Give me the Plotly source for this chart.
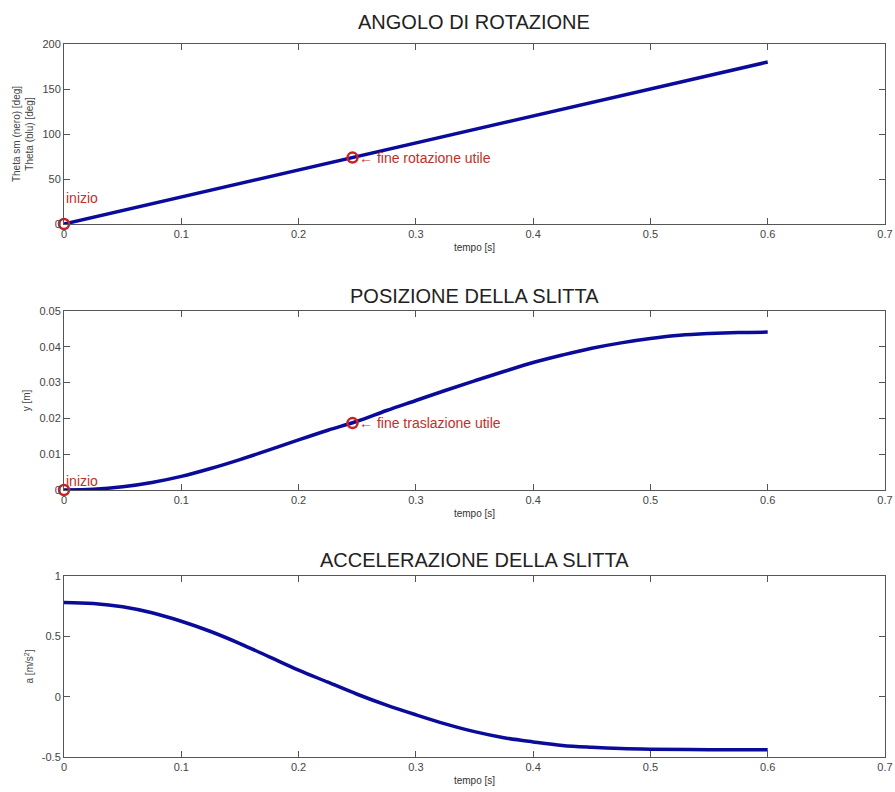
import plotly.graph_objects as go

# ---- data ----
t_theta = [0.0, 0.1, 0.2, 0.3, 0.4, 0.5, 0.6]
theta = [0, 30, 60, 90, 120, 150, 180]

t_pos = [0.0, 0.025, 0.05, 0.075, 0.1, 0.125, 0.15, 0.175, 0.2, 0.225, 0.25,
         0.275, 0.3, 0.325, 0.35, 0.375, 0.4, 0.425, 0.45, 0.475, 0.5, 0.525,
         0.55, 0.575, 0.6]
pos = [0.0, 0.0002, 0.0009, 0.0021, 0.0038, 0.006, 0.0085, 0.0112, 0.014,
       0.0167, 0.0192, 0.0222, 0.025, 0.0278, 0.0305, 0.0331, 0.0356, 0.0377,
       0.0396, 0.0411, 0.0423, 0.0432, 0.0437, 0.044, 0.0441]

t_acc = [0.0, 0.025, 0.05, 0.075, 0.1, 0.125, 0.15, 0.175, 0.2, 0.225, 0.25,
         0.275, 0.3, 0.325, 0.35, 0.375, 0.4, 0.425, 0.45, 0.475, 0.5, 0.55, 0.6]
acc = [0.78, 0.772, 0.745, 0.695, 0.625, 0.54, 0.44, 0.33, 0.22, 0.12, 0.02,
       -0.07, -0.15, -0.225, -0.29, -0.34, -0.375, -0.405, -0.42, -0.43,
       -0.435, -0.44, -0.44]

theta_marks_t = [0.0, 0.246]
theta_marks_v = [0, 73.8]
pos_marks_t = [0.0, 0.246]
pos_marks_v = [0.0, 0.0187]

x_ticks = [0, 0.1, 0.2, 0.3, 0.4, 0.5, 0.6, 0.7]
x_tick_text = ["0", "0.1", "0.2", "0.3", "0.4", "0.5", "0.6", "0.7"]
theta_ticks = [0, 50, 100, 150, 200]
pos_ticks = [0, 0.01, 0.02, 0.03, 0.04, 0.05]
pos_tick_text = ["0", "0.01", "0.02", "0.03", "0.04", "0.05"]
acc_ticks = [-0.5, 0, 0.5, 1]
acc_tick_text = ["-0.5", "0", "0.5", "1"]

titles = ["ANGOLO DI ROTAZIONE", "POSIZIONE DELLA SLITTA", "ACCELERAZIONE DELLA SLITTA"]

LINE = "#0b0b9a"
RED = "#cc2020"
TXTRED = "#c0302c"
AX = "#555555"
FONT = "Liberation Sans Narrow, Liberation Sans, Arial, sans-serif"
TFONT = "Liberation Sans, Arial, sans-serif"

W, H = 895, 792
def px(x):
    return x / W
def py(y):
    return 1 - y / H

xdom = [px(64), px(885)]
ydoms = [(py(224), py(44)), (py(490), py(311)), (py(757), py(576))]

fig = go.Figure()

fig.add_trace(go.Scatter(x=t_theta, y=theta, mode="lines", line=dict(color=LINE, width=3.5),
                         xaxis="x", yaxis="y", showlegend=False))
fig.add_trace(go.Scatter(x=theta_marks_t, y=theta_marks_v, mode="markers",
                         marker=dict(symbol="circle-open", size=10, color=RED, line=dict(width=2.5, color=RED)),
                         cliponaxis=False, xaxis="x", yaxis="y", showlegend=False))

fig.add_trace(go.Scatter(x=t_pos, y=pos, mode="lines", line=dict(color=LINE, width=3.5, shape="spline"),
                         xaxis="x2", yaxis="y2", showlegend=False))
fig.add_trace(go.Scatter(x=pos_marks_t, y=pos_marks_v, mode="markers",
                         marker=dict(symbol="circle-open", size=10, color=RED, line=dict(width=2.5, color=RED)),
                         cliponaxis=False, xaxis="x2", yaxis="y2", showlegend=False))

fig.add_trace(go.Scatter(x=t_acc, y=acc, mode="lines", line=dict(color=LINE, width=3.5, shape="spline"),
                         xaxis="x3", yaxis="y3", showlegend=False))

def xaxis(anchor):
    return dict(domain=xdom, anchor=anchor, range=[0, 0.7], tickvals=x_ticks, ticktext=x_tick_text,
                ticks="inside", ticklen=6, tickcolor=AX, showline=True, linecolor=AX, linewidth=1,
                mirror="ticks", showgrid=False, zeroline=False, automargin=False,
                tickfont=dict(family=FONT, size=11, color="#444"),
                title=dict(text="tempo [s]", font=dict(family=FONT, size=10, color="#333"), standoff=4))

def yaxis(anchor, dom, rng, tv, tt, title):
    return dict(domain=list(dom), anchor=anchor, range=rng, tickvals=tv, ticktext=tt,
                ticks="inside", ticklen=6, tickcolor=AX, showline=True, linecolor=AX, linewidth=1,
                mirror="ticks", showgrid=False, zeroline=False, automargin=False,
                tickfont=dict(family=FONT, size=11, color="#444"),
                title=dict(text=title, font=dict(family=FONT, size=10, color="#444"), standoff=6))

fig.update_layout(
    width=W, height=H, margin=dict(l=0, r=0, t=0, b=0, autoexpand=False),
    paper_bgcolor="white", plot_bgcolor="white",
    xaxis=xaxis("y"), xaxis2=xaxis("y2"), xaxis3=xaxis("y3"),
    yaxis=yaxis("x", ydoms[0], [0, 200], theta_ticks, [str(v) for v in theta_ticks],
                "Theta sm (nero) [deg]<br>Theta (blu) [deg]"),
    yaxis2=yaxis("x2", ydoms[1], [0, 0.05], pos_ticks, pos_tick_text, "y [m]"),
    yaxis3=yaxis("x3", ydoms[2], [-0.5, 1], acc_ticks, acc_tick_text, "a [m/s<sup>2</sup>]"),
)

anns = []
title_y = [22, 296, 560]
for t, yy in zip(titles, title_y):
    anns.append(dict(text=t, x=px(474), y=py(yy), xref="paper", yref="paper", showarrow=False,
                     xanchor="center", yanchor="middle", font=dict(family=TFONT, size=20, color="#222")))

anns.append(dict(text="inizio", x=0, y=29, xref="x", yref="y", showarrow=False, xanchor="left",
                 yanchor="middle", font=dict(family=FONT, size=14, color=TXTRED)))
anns.append(dict(text="← fine rotazione utile", x=0.246, y=73.8, xref="x", yref="y", showarrow=False,
                 xanchor="left", yanchor="middle", xshift=4, font=dict(family=FONT, size=14, color=TXTRED)))
anns.append(dict(text="inizio", x=0, y=0.0025, xref="x2", yref="y2", showarrow=False, xanchor="left",
                 yanchor="middle", font=dict(family=FONT, size=14, color=TXTRED)))
anns.append(dict(text="← fine traslazione utile", x=0.246, y=0.0187, xref="x2", yref="y2", showarrow=False,
                 xanchor="left", yanchor="middle", xshift=4, font=dict(family=FONT, size=14, color=TXTRED)))
fig.update_layout(annotations=anns)

fig.write_html("out.html", config={"displayModeBar": False},
               post_script="document.body.style.margin='0';document.body.style.overflow='hidden';")
